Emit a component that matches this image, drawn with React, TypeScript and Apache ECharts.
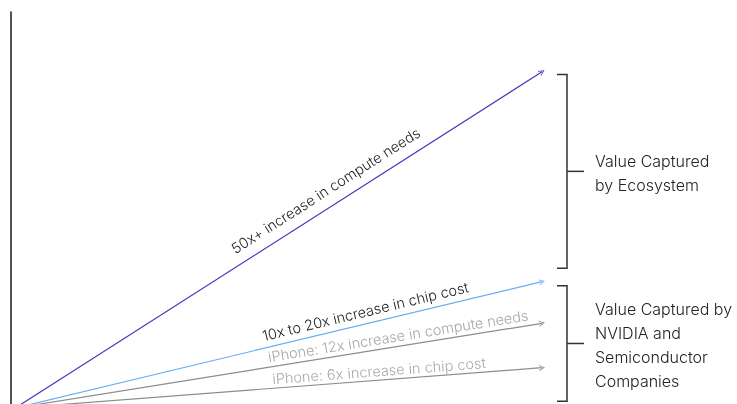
import React, { useEffect, useRef } from 'react';
import * as echarts from 'echarts';

// Lines: growth multipliers (drawn from origin to the end point)
const lineNames = [
  '50x+ increase in compute needs',
  '10x to 20x increase in chip cost',
  'iPhone: 12x increase in compute needs',
  'iPhone: 6x increase in chip cost',
];
const multipliers = [50, 18.8, 12.6, 6];
const endX = 10;
const lineColors = ['#4a35bf', '#68acf2', '#8c8c8c', '#8c8c8c'];
const labelColors = ['#222222', '#222222', '#a8a8a8', '#a8a8a8'];
const labelAt = [0.606, 0.67, 0.73, 0.692];
const labelGap = [9, 5, 3, 2];

// Brackets (in the same value units)
const bracketLabels = ['Value Captured\nby Ecosystem', 'Value Captured by\nNVIDIA and\nSemiconductor\nCompanies'];
const bracketTops = [49.6, 18.2];
const bracketBottoms = [20.8, 1.0];

const FONT = 'Inter, "Noto Sans", sans-serif';
const chevron = 'path://M0,10 L5,0 L10,10 L8.6,10 L5,2.8 L1.4,10 Z';

export default function App() {
  const ref = useRef<HTMLDivElement>(null);
  useEffect(() => {
    const chart = echarts.init(ref.current!, null, { renderer: 'svg' });
    chart.setOption({
      animation: false,
      grid: { left: 11, right: 195, top: 12, bottom: 0 },
      xAxis: { type: 'value', min: -0.08, max: endX, show: false },
      yAxis: {
        type: 'value',
        min: 0.6,
        max: 58.9,
        axisLine: { show: true, onZero: false, lineStyle: { color: '#1a1a1a', width: 1.5 } },
        axisTick: { show: false },
        axisLabel: { show: false },
        splitLine: { show: false },
      },
      series: lineNames.map((name, i) => ({
        type: 'lines',
        name,
        coordinateSystem: 'cartesian2d',
        clip: false,
        symbol: ['none', chevron],
        symbolSize: [9, 6],
        lineStyle: { color: lineColors[i], width: 1.2, opacity: 1 },
        data: [{ coords: [[0, 0], [endX, multipliers[i]]] }],
      })),
    });

    const P = (x: number, y: number) => chart.convertToPixel({ gridIndex: 0 }, [x, y]) as number[];
    const graphics: any[] = [];
    lineNames.forEach((name, i) => {
      const p0 = P(0, 0);
      const p1 = P(endX, multipliers[i]);
      const ang = Math.atan2(p0[1] - p1[1], p1[0] - p0[0]);
      const t = labelAt[i];
      const cx = p0[0] + (p1[0] - p0[0]) * t;
      const cy = p0[1] + (p1[1] - p0[1]) * t;
      const g = labelGap[i];
      graphics.push({
        type: 'text',
        x: cx - g * Math.sin(ang),
        y: cy - g * Math.cos(ang),
        rotation: ang,
        style: {
          text: name,
          fill: labelColors[i],
          font: `300 14.5px ${FONT}`,
          align: 'center',
          verticalAlign: 'bottom',
        },
      });
    });
    bracketLabels.forEach((label, i) => {
      const yt = P(0, bracketTops[i])[1];
      const yb = P(0, bracketBottoms[i])[1];
      const ym = (yt + yb) / 2;
      graphics.push({
        type: 'polyline',
        shape: { points: [[557, yt], [567, yt], [567, yb], [557, yb]] },
        style: { stroke: '#333333', lineWidth: 1.5, fill: 'none' },
      });
      graphics.push({
        type: 'line',
        shape: { x1: 567, y1: ym, x2: 584, y2: ym },
        style: { stroke: '#333333', lineWidth: 1.5 },
      });
      graphics.push({
        type: 'text',
        x: 595,
        y: ym + 2,
        style: {
          text: label,
          fill: '#222222',
          font: `300 16px ${FONT}`,
          lineHeight: 24,
          align: 'left',
          verticalAlign: 'middle',
        },
      });
    });
    chart.setOption({ graphic: graphics });
    return () => chart.dispose();
  }, []);
  return <div ref={ref} style={{ position: 'fixed', left: 0, top: 0, width: 737, height: 404 }} />;
}
